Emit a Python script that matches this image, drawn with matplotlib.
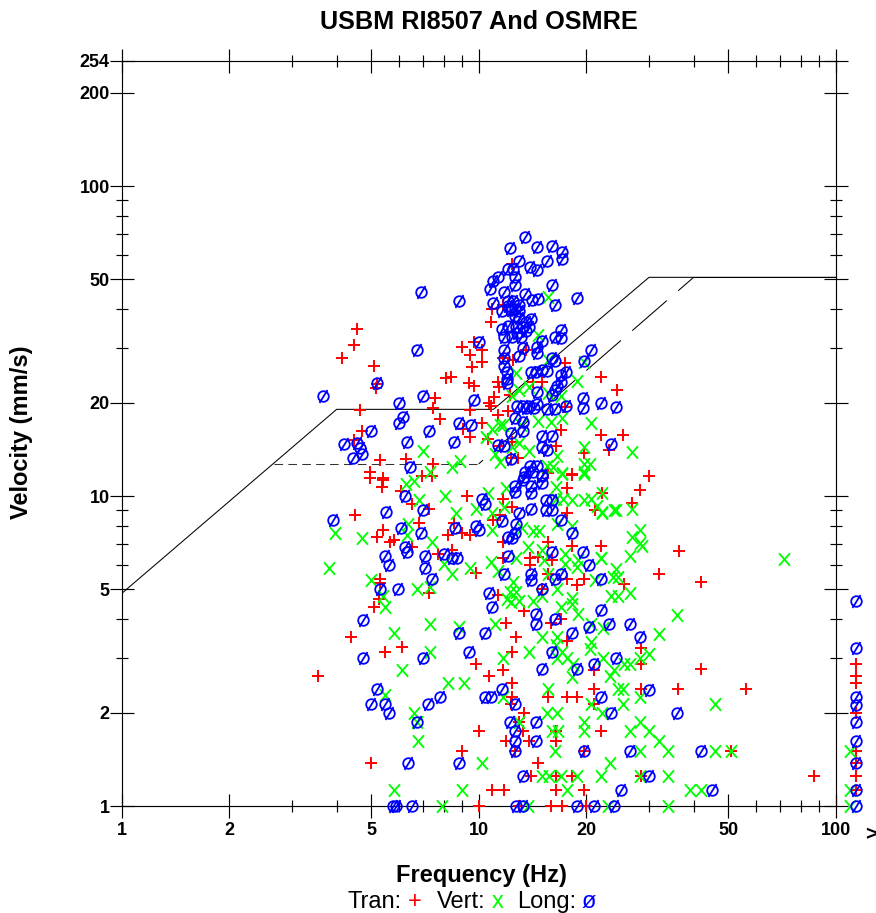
import matplotlib
matplotlib.use("Agg")
import matplotlib.pyplot as plt
from matplotlib.path import Path

plt.rcParams['font.family'] = ['Liberation Sans', 'DejaVu Sans']
plt.rcParams['lines.scale_dashes'] = False

title = "USBM RI8507 And OSMRE"
x_label = "Frequency (Hz)"
y_label = "Velocity (mm/s)"
x_major = [1, 2, 5, 10, 20, 50, 100]
x_minor = [3, 4, 6, 7, 8, 9, 30, 40, 60, 70, 80, 90]
y_major = [1, 2, 5, 10, 20, 50, 100, 200, 254]
y_minor = [3, 4, 6, 7, 8, 9, 30, 40, 60, 70, 80, 90]

# limit lines (Hz, mm/s)
usbm_f = [1, 4, 11, 30, 100]
usbm_v = [4.85, 19.05, 19.05, 50.8, 50.8]
osm_flat_f = [2.67, 10]
osm_flat_v = [12.7, 12.7]
osm_slope_f = [10, 40]
osm_slope_v = [12.7, 50.8]
osm_top_f = [40, 100]
osm_top_v = [50.8, 50.8]

tran = [
 (4.55,34.5),(4.47,30.8),(4.15,28),(5.1,26.3),(5.15,22.4),(5.2,23),(4.65,19),(4.7,16.2),(4.47,15.2),
 (5.3,13.1),(6.25,13.2),(7.45,12.7),(4.95,12),(4.95,11.4),(5.4,11.4),(6.95,11.6),(7.4,11.6),
 (9,30.3),(9.7,31.5),(10.2,29.5),(9.45,28.5),(10.2,27),(9.6,26),(8.1,24),(8.35,24.2),(9.4,23.2),(9.7,22.7),
 (7.55,20.7),(7.45,19.3),(7.8,17.7),(9.45,18.9),(9.45,15.5),(9.05,16.5),(10.2,17.2),(10.8,36.5),(11.7,41.5),
 (11.05,20.9),(10.7,19.9),(10.85,19.5),(11.3,18.2),(11.3,23.3),(11.4,22.5),(12.2,21.2),(12.1,18.8),(11.7,28),
 (12.4,56),(10.9,40),(12.5,27.5),(13.6,29.5),(14.2,23.3),(15,23.3),(17.5,26.8),(22,24.2),(24.4,22),(17.4,19.4),
 (17,16.3),(22,15.7),(25.4,15.7),(23.2,14.1),(19.7,13.8),(16.5,14.5),(18.2,11.8),(12.3,13.3),(12.9,13.3),
 (10.6,15.3),(12.4,15),(11.5,14.5),(30,11.6),(28.3,10.45),(26.8,9.5),
 (5.4,11.3),(5.35,10.7),(6.05,10.4),(6.5,9.4),(7.25,9.1),(4.5,8.7),(6.8,8.2),(5.4,7.8),(5.2,7.4),(5.65,7.1),(5.8,7.2),
 (6.5,6.85),(9.3,10),(11.7,9.8),(12.4,9.2),(11,8.4),(11.5,8.7),(8.5,8.2),(8.2,7.5),(9,7.6),(9.45,7.5),(11.7,7.1),
 (7.7,6.5),(8.4,6.7),(18.2,6.9),(22,6.9),(15.6,7.1),(11.7,6.3),(13.9,6.3),(14.7,6.35),(13.9,6),(16,6.2),
 (9.85,5.65),(15.6,5.6),(17.7,5.4),(18.8,5.15),(19.7,5.4),(5.3,5.4),(5.3,5.25),(7.25,4.88),(5.25,4.65),(5.1,4.4),
 (11.3,4.8),(15,5),(13.4,4.25),(11.9,3.9),(15.9,3.9),(17,4),(4.4,3.5),(12.7,3.5),(17.7,3.4),(5.45,3.13),(6.1,3.25),
 (12.4,3.13),(9.8,2.88),(11.7,2.75),(10.7,2.63),(3.55,2.63),(12.4,2.5),(21,2.75),(21,2.38),(12.4,2.25),(15.6,2.25),
 (17.7,2.25),(18.8,2.25),(21,2.13),(12.3,2.13),(13.4,2),(13,1.87),(13.3,1.75),(10,1.75),(16.5,1.75),(22,1.75),
 (11.9,1.62),(13.8,1.62),(16.5,1.62),(9,1.5),(12.6,1.5),(19.7,1.5),(5,1.38),(14.7,1.38),(14,1.25),(16.5,1.25),
 (18.2,1.25),(10.9,1.13),(11.8,1.13),(16.5,1.13),(19.7,1.13),(10,1),(13,1),(15.9,1),(17.1,1),(20,1),
 (22.1,10.2),(21.2,9),(17.7,8.8),(18.2,11.7),(17.7,10.6),(15.6,11.9),
 (36.3,6.65),(32,5.6),(42,5.27),(25.5,5.2),(28.5,3.24),(28.5,2.87),(42,2.77),(28.5,2.38),(36.2,2.38),(56,2.38),
 (51,1.5),(28.5,1.25),(87,1.25),
 (114,2.88),(114,2.63),(114,2.5),(114,2),(114,1.5),(114,1.38),(114,1.25),(114,1.13),
]

vert = [
 (3.95,7.6),(3.8,5.87),(4.7,7.35),(5,5.35),(5.4,4.75),(5.45,4.4),(5.8,3.62),(6.1,2.75),(6.25,10.9),(6.6,11.2),
 (6.8,9.7),(6.35,8.15),(6.3,7.5),(7.4,7.1),(8.05,10),(8.65,8.8),(6.7,5),(7.3,5.1),(7.3,3.87),(7.3,3.13),
 (8,6.05),(8.4,5.6),(9.45,5.87),(8.8,3.78),(8.2,2.5),(9.1,2.5),(6.6,2),(6.75,1.62),(5.8,1.13),(8.95,1.13),
 (10.2,1.38),(7.9,1),(5.45,2.28),(6.7,1.87),(9.8,9.1),(10.6,10.2),(10.9,8.8),(11.8,9.2),(11.9,10.6),(10.9,7.8),
 (10.8,6.15),(11.3,5.75),(12.5,5.3),(12.7,6.3),(12.2,4.9),(12,4.65),(12.7,4.9),(12.3,4.55),(13,4.6),(14.2,4.6),
 (15,4.75),(16.6,5),(18.2,4.7),(17,4.4),(18.2,4.5),(19,4.15),(11.1,3.87),(20.6,3.87),(22.3,3.75),(15,3.5),
 (16.6,3.5),(16.5,3.3),(20.6,3.38),(20.5,3.2),(11.7,3),(13.8,3.13),(17.1,3.13),(16.6,3),(17.7,3),(18.4,2.88),
 (18.2,2.6),(22.3,3),(24,2.75),(23.3,2.62),(24.5,2.38),(15.6,2.38),(11.7,2.25),(20.6,2.13),(22.2,2),(15.5,2),
 (16.6,2),(13,1.87),(19.7,1.87),(19.7,1.75),(16,1.75),(16.7,1.75),(16.4,1.5),(23.3,1.38),(15,1.25),(15.7,1.25),
 (17,1.25),(18.8,1.25),(22,1.25),(17.7,1.13),(13.7,1),(23,1),
 (13.7,6.85),(15,6.7),(15.2,6.2),(17.4,6.5),(17.4,6.05),(19,6.2),(18.8,5.9),(22,6.3),(21.2,5.35),(23.8,5.5),
 (24.5,5.5),(23.5,4.75),(24.5,4.75),(15.6,5.6),(16.5,9.8),(17.2,9.8),(18.2,9.7),(19.7,9.7),(20.6,9.8),(21.4,9.3),
 (22.2,8.8),(23.9,9),(16.6,8.15),(18.2,8),(13.2,7.9),(14.2,7.7),(14.8,7.7),(16.5,10.7),(17.1,11.8),(19.7,11.8),
 (15.6,44),(14.7,33),(15.6,27.5),(19.7,27),(12.7,25),(18.8,23.5),(13,22),(13.8,22.5),(12.4,21),(15.6,21.5),
 (17,21),(11.5,17),(10.9,16.5),(10.5,15.5),(7,14),(8.85,13),(8.4,12.4),(7.3,12),(13.1,17),(14.7,17.5),(15.9,17.3),
 (17.1,17.8),(11.1,13.7),(11.5,12.9),(12.4,14.4),(13,14.8),(13.8,14),(16.6,13.5),(15.5,12.5),(16.2,12.4),(17.1,11.9),
 (19.7,14.4),(20.6,17.2),(19.7,12.7),(20.5,12.7),(19.7,12),(11.7,17),
 (26.8,13.9),(22.1,10.2),(26.8,9.1),(24.2,9),(22.2,8.9),(28.3,7.77),(26.8,7.4),(28.3,7.05),(28.7,6.9),(22,6.3),
 (26.6,6.4),(24.2,5.8),(71.5,6.25),(26.5,4.88),(36,4.13),(32,3.6),(30,3.1),(28.3,3),(25.5,2.87),(26.5,2.87),
 (25.3,2.38),(28.3,2.25),(25.3,2.13),(46,2.13),(28.3,1.87),(26.5,1.75),(30,1.75),(32,1.62),(28.3,1.5),(34,1.5),
 (46,1.5),(51,1.5),(28.3,1.25),(34,1.25),(39,1.13),(42,1.13),(34,1),
 (110,1.5),(110,1.13),(110,1),
]

long_ = [
 (3.9,8.35),(5.5,8.9),(6.2,10),(7,9),(6.05,7.9),(6.9,7.6),(6.2,6.85),(6.3,6.6),(5.45,6.4),(5.6,6),(7.05,6.4),(7.05,5.87),
 (7.4,5.4),(5.3,5),(5.95,5),(4.75,3.98),(4.75,3),(7,3),(8.8,3.62),(10.4,3.62),(9.4,3.13),(16,3.13),(15,2.76),(18.8,2.76),
 (21,2.88),(24.3,3),(18.2,3.62),(20.4,3.77),(23.2,3.87),(22,4.3),(16.4,4),(14.5,4.15),(14.5,3.87),(10.9,4.4),(10.7,4.88),
 (11.8,5.6),(14,5.6),(14,5.35),(15,5),(16.4,5.4),(17,5.6),(22,5.4),(20.4,6),(19.6,6.6),(16,6.6),(12.1,6.4),(8,6.5),
 (8.4,6.3),(8.7,6.3),(8.6,7.9),(9.8,8),(10,7.8),(12.1,7.4),(12.4,7.3),(12.6,7.6),(12.7,8.15),(11.6,8.3),(13,8.8),(14,9.1),
 (15.4,9),(16,9),(15.4,9.7),(16,9.7),(17,8.35),(18.2,7.6),(10.2,9.75),(10.4,9.4),(12.6,10.8),(12.6,10.3),(14,10.2),
 (13.3,11.3),(14,10.8),(15,11),(15,11.7),(13.5,12),
 (5.2,2.38),(5,2.13),(5.45,2.13),(5.6,2),(6.7,1.87),(7.2,2.13),(7.8,2.25),(10.4,2.25),(10.85,2.25),(11.6,2.38),(12.6,2.13),
 (12.2,1.87),(14.5,1.87),(12.6,1.75),(12.6,1.62),(14.5,1.62),(12.6,1.5),(19.7,1.5),(6.35,1.38),(8.8,1.38),(13.3,1.25),
 (22,2.25),(23.5,2),(25,1.13),(5.75,1),(5.85,1),(6.5,1),(12.7,1),(13.3,1),(18.8,1),(21,1),(24,1),
 (26.5,3.88),(28.3,3.5),(30,2.37),(36,2),(26.5,1.5),(42,1.5),(30,1.25),(45,1.13),
 (114,4.6),(114,3.24),(114,2.25),(114,2.12),(114,1.87),(114,1.62),(114,1.38),(114,1.13),(114,1),
 (13.5,68.5),(12.2,63),(14.6,63.5),(16,64),(17.1,61.5),(17.1,58),(15.5,57.5),(13,57.5),(12.1,54),(12.5,54),(13.9,55),
 (14.6,53.5),(11.35,51),(12.6,51),(11,49.5),(12.6,48),(10.75,46.5),(16,48),(6.9,45.5),(8.8,42.5),(18.8,43.5),(16.4,41.5),
 (11.8,45.5),(13.5,45),(14.1,43),(14.7,43.2),(11,42),(12.1,42.5),(12.5,42.5),(13,41.5),(11.6,39.5),(12.1,41),(12.3,39.8),
 (12.6,40),(13,39.5),(12.6,38),(13,37.5),(14,37.2),(13.6,36.5),(12.1,35.5),(11.6,34.7),(12.7,35.2),(13.3,35.2),(13.8,35.2),
 (12.8,33.5),(13.6,34),(17,34.3),(16.4,32.5),(17,32.3),(11.8,32.5),(12.4,32.5),(13.1,32.5),(15,31.7),(10,31.5),(6.7,29.5),
 (13.3,30),(14.6,30.2),(14.6,29),(20.6,29.7),(19.7,27.3),(11.8,29.6),(11.8,28),(11.8,26.3),(13,28.3),(16,27.8),(16.4,27.2),
 (12,25.2),(12,23.9),(12,23.2),(14,25.2),(14.5,25.2),(15,25.5),(15.5,25.3),(17,24.5),(17.6,25.2),(17,23.3),(16.6,22.7),
 (16.4,22),(16,21.2),(14.6,21.7),(19.6,20.7),(19.6,19.2),(22,20),(24.3,19.4),(17.6,19.5),(5.2,23.1),(3.66,21),(6,20),(7,21),
 (9.7,20.4),(6.15,18),(6,17.2),(5,16.2),(7.25,16.2),(8.8,17.2),(9.5,17),(6.3,15),(4.2,14.7),(4.55,14.8),(4.65,14.3),
 (4.7,13.7),(4.45,13.3),(8.5,15),(6.4,12.4),(12.8,19.5),(13.3,19.5),(13.8,19.5),(14.6,19.8),(13.6,19.2),(14.3,19.2),
 (15.5,19.1),(16.4,19.1),(12.6,17.8),(13.3,17.4),(12.3,16),(13.3,16.2),(15,15.6),(16,15.6),(15,14.4),(15.5,14.1),
 (11.35,14.6),(11.8,14.5),(12.3,13.2),(23.5,14.7),(13.9,12.5),(14.6,12.5),(15,11.6),(13.4,11.5),(14.2,12),
]

PLUS = Path([(-0.5, 0), (0.5, 0), (0, -0.5), (0, 0.5)],
            [Path.MOVETO, Path.LINETO, Path.MOVETO, Path.LINETO])
CROSS = Path([(-0.44, -0.5), (0.44, 0.5), (-0.44, 0.5), (0.44, -0.5)],
             [Path.MOVETO, Path.LINETO, Path.MOVETO, Path.LINETO])
SLASH = Path([(-0.75, -1.22), (0.75, 1.22)], [Path.MOVETO, Path.LINETO])
OSLASH = Path.make_compound_path(Path.unit_circle(), SLASH)

W, H = 876, 913
fig = plt.figure(figsize=(W / 100, H / 100), dpi=100, facecolor='white')
L, R, T, B = 121.7, 835.7, 60.7, 806.0
ax = fig.add_axes([L / W, 1 - B / H, (R - L) / W, (B - T) / H])
ax.set_xscale('log')
ax.set_yscale('log')
ax.set_xlim(1, 100)
ax.set_ylim(1, 254)

ax.set_xticks(x_major, [str(v) for v in x_major])
ax.set_xticks(x_minor, [''] * len(x_minor), minor=True)
ax.set_yticks(y_major, [str(v) for v in y_major])
ax.set_yticks(y_minor, [''] * len(y_minor), minor=True)
for axis, pad in (('x', 3.0), ('y', 0.0)):
    ax.tick_params(axis=axis, which='major', direction='inout', length=17.3, width=0.85, pad=pad,
                   top=True, right=True, labelsize=13, color='black')
    ax.tick_params(axis=axis, which='minor', direction='inout', length=8.6, width=0.85,
                   top=True, right=True, color='black')
for t in ax.get_xticklabels() + ax.get_yticklabels():
    t.set_fontweight('bold')
for s in ax.spines.values():
    s.set_linewidth(0.85)

ax.plot(usbm_f, usbm_v, color='black', lw=0.75, zorder=2)
ax.plot(osm_flat_f, osm_flat_v, color='#333333', lw=0.75, ls=(0, (6.2, 3.8)), zorder=2)
ax.plot(osm_slope_f, osm_slope_v, color='black', lw=0.75, ls=(28.8, (33.0, 10.8)), zorder=2)
ax.plot(osm_top_f, osm_top_v, color='black', lw=0.75, zorder=2)

def scatter(points, marker, size, width, color, z):
    ax.plot([p[0] for p in points], [p[1] for p in points], ls='none', marker=marker, ms=size,
            mec=color, mfc='none', mew=width, color=color, clip_on=False, zorder=z)

scatter(tran, PLUS, 8.8, 1.4, '#ff0000', 3)
scatter(vert, CROSS, 9.0, 1.35, '#00ff00', 4)
scatter(long_, OSLASH, 9.3, 1.3, '#0000ff', 5)

fig.text(478.5 / W, 1 - 22 / H, title, ha='center', va='center', fontsize=18.2, fontweight='bold')
fig.text(481.5 / W, 1 - 875 / H, x_label, ha='center', va='center', fontsize=17, fontweight='bold')
fig.text(22 / W, 1 - 432.5 / H, y_label, ha='center', va='center', rotation=90, fontsize=17, fontweight='bold')
fig.text(865 / W, 1 - 835 / H, '>', ha='left', va='center', fontsize=15, fontweight='bold')

fs = 17
yl = 1 - 908 / H
fig.text(347.5 / W, yl, 'Tran:', ha='left', va='baseline', fontsize=fs)
fig.text(415 / W, yl, '+', ha='center', va='baseline', fontsize=fs, color='#ff0000')
fig.text(437 / W, yl, 'Vert:', ha='left', va='baseline', fontsize=fs)
fig.text(498 / W, yl, 'x', ha='center', va='baseline', fontsize=fs, color='#00ff00')
fig.text(517 / W, yl, 'Long:', ha='left', va='baseline', fontsize=fs)
fig.text(588.5 / W, yl, '\u00f8', ha='center', va='baseline', fontsize=fs, color='#0000ff')

fig.savefig('out.png', dpi=100)
